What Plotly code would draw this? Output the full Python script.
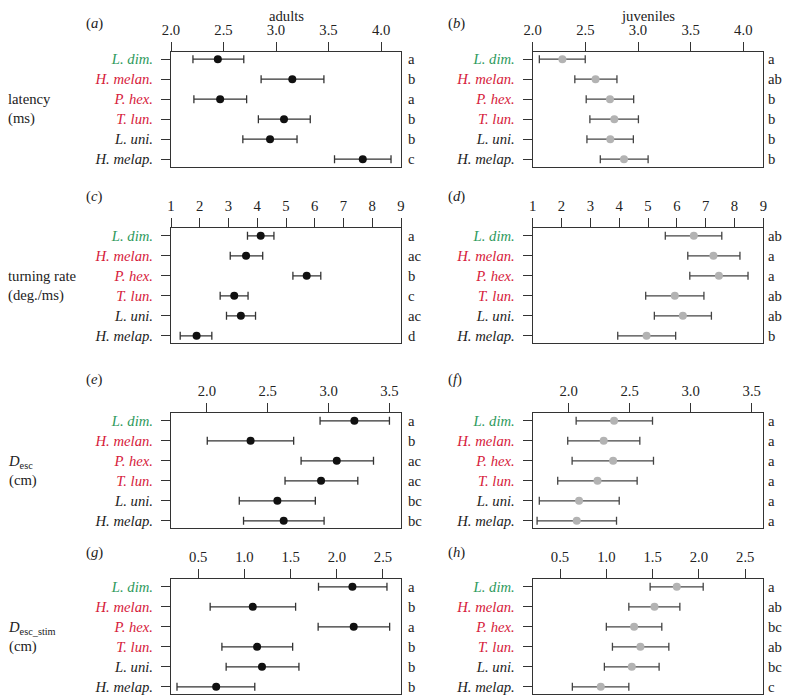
import plotly.graph_objects as go

species = ["L. dim.", "H. melan.", "P. hex.", "T. lun.", "L. uni.", "H. melap."]
species_colors = ["#2e9a5c", "#d6203a", "#d6203a", "#d6203a", "#222222", "#222222"]

# latency (ms)
lat_ad_mean = [2.446, 3.155, 2.468, 3.076, 2.943, 3.826]
lat_ad_low = [2.209, 2.858, 2.218, 2.832, 2.684, 3.557]
lat_ad_high = [2.693, 3.456, 2.720, 3.326, 3.200, 4.095]
lat_ad_letters = ["a", "b", "a", "b", "b", "c"]

lat_juv_mean = [2.282, 2.597, 2.734, 2.775, 2.737, 2.867]
lat_juv_low = [2.063, 2.400, 2.508, 2.543, 2.515, 2.642]
lat_juv_high = [2.499, 2.800, 2.959, 3.004, 2.956, 3.096]
lat_juv_letters = ["a", "ab", "b", "b", "b", "b"]

# turning rate (deg./ms)
tr_ad_mean = [4.12, 3.61, 5.72, 3.20, 3.43, 1.89]
tr_ad_low = [3.66, 3.06, 5.24, 2.71, 2.93, 1.32]
tr_ad_high = [4.58, 4.19, 6.21, 3.68, 3.94, 2.42]
tr_ad_letters = ["a", "ac", "b", "c", "ac", "d"]

tr_juv_mean = [6.59, 7.27, 7.46, 5.93, 6.21, 4.95]
tr_juv_low = [5.60, 6.38, 6.45, 4.92, 5.22, 3.95]
tr_juv_high = [7.56, 8.19, 8.47, 6.94, 7.20, 5.96]
tr_juv_letters = ["ab", "a", "a", "ab", "ab", "b"]

# D_esc (cm)
de_ad_mean = [3.212, 2.359, 3.067, 2.938, 2.579, 2.631]
de_ad_low = [2.930, 2.003, 2.774, 2.642, 2.266, 2.301]
de_ad_high = [3.500, 2.713, 3.369, 3.240, 2.891, 2.963]
de_ad_letters = ["a", "b", "ac", "ac", "bc", "bc"]

de_juv_mean = [2.372, 2.287, 2.364, 2.236, 2.085, 2.066]
de_juv_low = [2.061, 1.992, 2.028, 1.910, 1.759, 1.741]
de_juv_high = [2.687, 2.583, 2.695, 2.561, 2.414, 2.392]
de_juv_letters = ["a", "a", "a", "a", "a", "a"]

# D_esc_stim (cm)
ds_ad_mean = [2.169, 1.090, 2.183, 1.137, 1.190, 0.694]
ds_ad_low = [1.802, 0.629, 1.798, 0.756, 0.802, 0.270]
ds_ad_high = [2.543, 1.554, 2.572, 1.522, 1.590, 1.112]
ds_ad_letters = ["a", "b", "a", "b", "b", "b"]

ds_juv_mean = [1.761, 1.520, 1.300, 1.368, 1.275, 0.940]
ds_juv_low = [1.473, 1.243, 1.000, 1.066, 0.979, 0.633]
ds_juv_high = [2.046, 1.794, 1.599, 1.675, 1.570, 1.243]
ds_juv_letters = ["a", "ab", "bc", "abc", "bc", "c"]

row_labels = ["latency<br>(ms)", "turning rate<br>(deg./ms)",
              "<i>D</i><sub>esc</sub><br>(cm)", "<i>D</i><sub>esc_stim</sub><br>(cm)"]
panel_tags = ["a", "b", "c", "d", "e", "f", "g", "h"]
col_titles = ["adults", "juveniles"]

x_ranges = [[2.0, 4.19], [1.0, 9.0], [1.705, 3.595], [0.205, 2.695]]
x_ticks = [[2.0, 2.5, 3.0, 3.5, 4.0], [1, 2, 3, 4, 5, 6, 7, 8, 9],
           [2.0, 2.5, 3.0, 3.5], [0.5, 1.0, 1.5, 2.0, 2.5]]
x_formats = [".1f", "d", ".1f", ".1f"]

panels = [
    [(lat_ad_mean, lat_ad_low, lat_ad_high, lat_ad_letters),
     (lat_juv_mean, lat_juv_low, lat_juv_high, lat_juv_letters)],
    [(tr_ad_mean, tr_ad_low, tr_ad_high, tr_ad_letters),
     (tr_juv_mean, tr_juv_low, tr_juv_high, tr_juv_letters)],
    [(de_ad_mean, de_ad_low, de_ad_high, de_ad_letters),
     (de_juv_mean, de_juv_low, de_juv_high, de_juv_letters)],
    [(ds_ad_mean, ds_ad_low, ds_ad_high, ds_ad_letters),
     (ds_juv_mean, ds_juv_low, ds_juv_high, ds_juv_letters)],
]

# page is rendered with an 8px body margin; lay out in page pixels and convert
OFF = 8
W, H = 790 - OFF, 696 - OFF
FONT = "Liberation Serif"
FS = 14.7
TXT = "#222222"


def px_x(p):
    return (p - OFF) / W


def px_y(p):
    return 1 - (p - OFF) / H


col_px = [(171, 401), (532.7, 763.3)]
row_px = [(51.7, 166.7), (228.3, 343.3), (413.3, 528.3), (579.3, 694.3)]
tag_px_y = [23.0, 196.7, 379.5, 552.8]
marker_colors = ["#111111", "#b3b3b3"]
err_colors = ["#333333", "#444444"]
letter_shift = [5, 3]

fig = go.Figure()
layout = dict(width=W, height=H, margin=dict(l=0, r=0, t=0, b=0, autoexpand=False),
              paper_bgcolor="white", plot_bgcolor="white", showlegend=False,
              font=dict(family=FONT, size=FS, color=TXT))
annotations = []

species_ticktext = [f'<span style="color:{c}">{s}</span>' for s, c in zip(species, species_colors)]
yvals = list(range(1, len(species) + 1))

k = 0
for r in range(4):
    for c in range(2):
        k += 1
        mean, low, high, letters = panels[r][c]
        xname = "x" if k == 1 else f"x{k}"
        yname = "y" if k == 1 else f"y{k}"
        plus = [h - m for h, m in zip(high, mean)]
        minus = [m - l for m, l in zip(mean, low)]
        fig.add_trace(go.Scatter(
            x=mean, y=yvals, mode="markers", xaxis=xname, yaxis=yname,
            marker=dict(color=marker_colors[c], size=8),
            error_x=dict(type="data", symmetric=False, array=plus, arrayminus=minus,
                         color=err_colors[c], thickness=1.3, width=4),
            hoverinfo="skip"))
        x0, x1 = col_px[c]
        top, bot = row_px[r]
        xdom = [px_x(x0), px_x(x1)]
        ydom = [px_y(bot), px_y(top)]
        layout["xaxis" if k == 1 else f"xaxis{k}"] = dict(
            domain=xdom, range=x_ranges[r], side="top", anchor=yname,
            tickvals=x_ticks[r], tickformat=x_formats[r],
            ticks="outside", ticklen=9, tickcolor="#333333", tickwidth=1,
            ticklabelstandoff=1, automargin=False,
            showline=True, mirror=True, linecolor="#333333", linewidth=1,
            showgrid=False, zeroline=False,
            tickfont=dict(family=FONT, size=FS, color=TXT))
        layout["yaxis" if k == 1 else f"yaxis{k}"] = dict(
            domain=ydom, range=[6.375, 0.625], anchor=xname,
            tickvals=yvals, ticktext=species_ticktext,
            ticks="outside", ticklen=9, tickcolor="#333333", tickwidth=1,
            ticklabelstandoff=5, automargin=False,
            showline=True, mirror=True, linecolor="#333333", linewidth=1,
            showgrid=False, zeroline=False,
            tickfont=dict(family=FONT, size=FS, color=TXT, style="italic"))
        for yv, lt in zip(yvals, letters):
            annotations.append(dict(
                text=lt, xref=f"{xname} domain", yref=yname, x=1.0, y=yv,
                xanchor="left", yanchor="middle", xshift=letter_shift[c], showarrow=False,
                font=dict(family=FONT, size=FS, color=TXT)))
        # panel tag
        tag_x = 84 if c == 0 else 446
        annotations.append(dict(
            text=f"(<i>{panel_tags[k-1]}</i>)", xref="paper", yref="paper",
            x=px_x(tag_x), y=px_y(tag_px_y[r]), xanchor="left", yanchor="middle",
            showarrow=False, font=dict(family=FONT, size=FS, color=TXT)))
    # row label
    top, bot = row_px[r]
    annotations.append(dict(
        text=row_labels[r], xref="paper", yref="paper", x=0, y=px_y((top + bot) / 2),
        xanchor="left", yanchor="middle", align="left", showarrow=False, xshift=-2,
        font=dict(family=FONT, size=FS, color=TXT)))

for c in range(2):
    x0, x1 = col_px[c]
    annotations.append(dict(
        text=col_titles[c], xref="paper", yref="paper", x=px_x((x0 + x1) / 2),
        y=1.0, xanchor="center", yanchor="top", yshift=2, showarrow=False,
        font=dict(family=FONT, size=FS, color=TXT)))

layout["annotations"] = annotations
fig.update_layout(**layout)
fig.write_html("out.html")
